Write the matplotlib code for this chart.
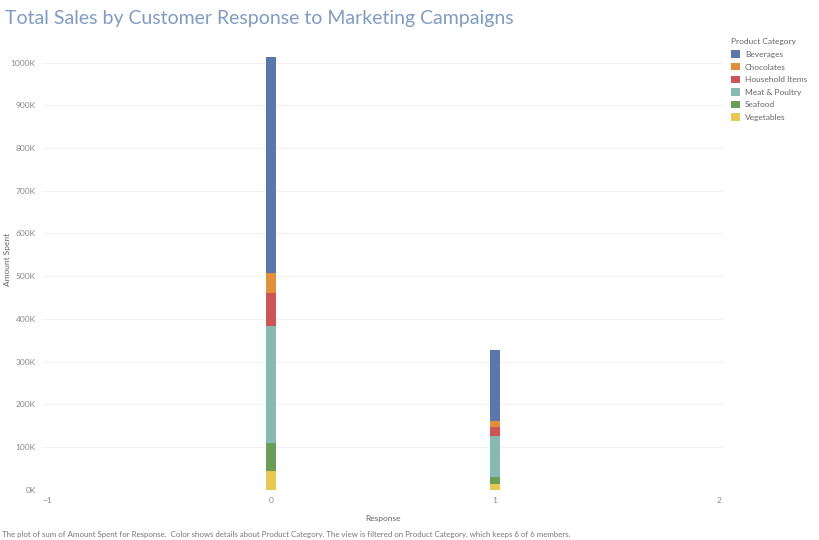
import matplotlib.pyplot as plt
from matplotlib.patches import Patch
from matplotlib.ticker import FuncFormatter

plt.rcParams['font.family'] = ['Lato', 'DejaVu Sans']

responses = [0, 1]
categories = ["Beverages", "Chocolates", "Household Items", "Meat & Poultry", "Seafood", "Vegetables"]
# amount spent in thousands, per response (0, 1)
beverages = [506, 166]
chocolates = [47, 14]
household = [77, 22]
meat = [274, 96]
seafood = [66, 16]
vegetables = [44, 14]

colors = {
	"Beverages": "#5b76a8",
	"Chocolates": "#e0903a",
	"Household Items": "#cc5558",
	"Meat & Poultry": "#88bab4",
	"Seafood": "#6a9e58",
	"Vegetables": "#e6c853",
}

fig = plt.figure(figsize=(8.2, 5.4), dpi=100)
ax = fig.add_axes([0.052, 0.093, 0.83, 0.852])

# stacked from bottom: vegetables first
stack = [("Vegetables", vegetables), ("Seafood", seafood), ("Meat & Poultry", meat),
	("Household Items", household), ("Chocolates", chocolates), ("Beverages", beverages)]
bottom = [0, 0]
for name, vals in stack:
	v = [x * 1000 for x in vals]
	ax.bar(responses, v, bottom=bottom, width=0.048, color=colors[name], zorder=3)
	bottom = [b + x for b, x in zip(bottom, v)]

ax.set_xlim(-1.02, 2.02)
ax.set_ylim(0, 1077000)
ax.set_xticks([-1, 0, 1, 2])
ax.set_yticks(range(0, 1000001, 100000))
ax.yaxis.set_major_formatter(FuncFormatter(lambda v, p: f"{int(v/1000)}K"))
ax.grid(axis='y', color='#f2f2f2', linewidth=0.8, zorder=0)
for s in ax.spines.values():
	s.set_visible(False)
ax.tick_params(axis='both', length=0, labelsize=6, labelcolor='#8a8a8a', pad=5)
ax.set_xlabel("Response", fontsize=6, color='#666666', labelpad=8)
fig.text(0.009, 0.52, "Amount Spent", fontsize=6, color='#666666', rotation=90,
	ha='center', va='center')

fig.text(0.006, 0.965, "Total Sales by Customer Response to Marketing Campaigns",
	fontsize=14, color='#7f9cc1', va='center')

handles = [Patch(facecolor=colors[c], label=c) for c in categories]
leg = fig.legend(handles=handles, title="Product Category", loc='upper left',
	bbox_to_anchor=(0.888, 0.935), frameon=False, fontsize=6, title_fontsize=6,
	handlelength=1.0, handleheight=1.0, handletextpad=0.6, labelspacing=0.6,
	borderaxespad=0, alignment='left')
for t in leg.get_texts():
	t.set_color('#666666')
leg.get_title().set_color('#666666')

fig.text(0.003, 0.011, "The plot of sum of Amount Spent for Response.  Color shows details about Product Category. "
	"The view is filtered on Product Category, which keeps 6 of 6 members.",
	fontsize=5.7, color='#777777', va='center')

fig.savefig("out.png", dpi=100, facecolor='white')
